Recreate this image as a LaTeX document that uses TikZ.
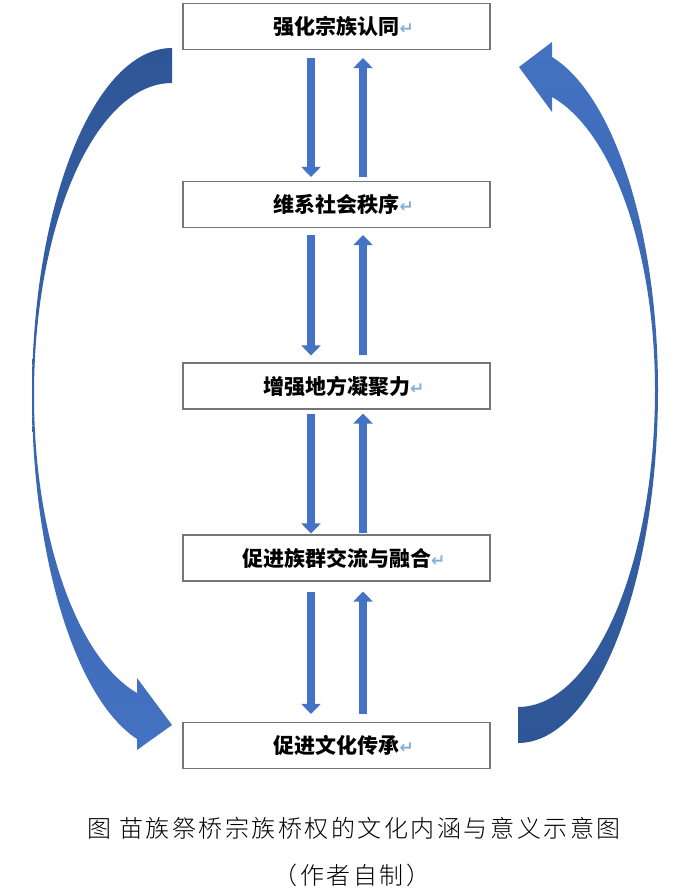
\documentclass[tikz,border=0pt]{standalone}
\usepackage{fontspec}
\setmainfont{Noto Sans CJK SC}
\newfontfamily\symfont{DejaVu Sans}
\newfontfamily\capfont{Noto Sans CJK SC Light}[LetterSpace=10.5]
\usetikzlibrary{arrows.meta}
\definecolor{arrowblue}{RGB}{68,114,196}
\definecolor{arrowdark}{RGB}{46,86,150}
\definecolor{arrowlight}{RGB}{68,114,194}
\definecolor{boxgray}{RGB}{118,118,118}
\definecolor{retblue}{RGB}{135,175,215}
\newcommand{\retmark}{\rlap{\symfont\fontsize{17}{17}\selectfont\color{retblue}↵}}
\begin{document}
\begin{tikzpicture}[x=1pt,y=-1pt,
  box/.style={draw=boxgray, line width=1.2pt, fill=white, minimum width=307pt,
    minimum height=46pt, inner sep=0pt, font=\fontsize{21}{24}\selectfont\bfseries},
  varrow/.style={draw=arrowblue, line width=8pt,
    -{Triangle[width=19pt,length=10pt]}},
  captxt/.style={inner sep=0pt, font=\capfont\fontsize{24}{28}\selectfont}]
\useasboundingbox (0,0) rectangle (692,892);

% boxes
\node[box] (b1) at (336.5,26.5) {强化宗族认同\retmark};
\node[box] (b2) at (336.5,204.5) {维系社会秩序\retmark};
\node[box] (b3) at (336.5,386) {增强地方凝聚力\retmark};
\node[box] (b4) at (336.5,558) {促进族群交流与融合\retmark};
\node[box] (b5) at (336.5,745.5) {促进文化传承\retmark};

% vertical arrows
\draw[varrow] ([xshift=-25.5pt,yshift=-8pt]b1.south) -- ([xshift=-25.5pt,yshift=4pt]b2.north);
\draw[varrow] ([xshift=26.5pt,yshift=4pt]b2.north) -- ([xshift=26.5pt,yshift=-8pt]b1.south);
\draw[varrow] ([xshift=-25.5pt,yshift=-7pt]b2.south) -- ([xshift=-25.5pt,yshift=7pt]b3.north);
\draw[varrow] ([xshift=26.5pt,yshift=7pt]b3.north) -- ([xshift=26.5pt,yshift=-7pt]b2.south);
\draw[varrow] ([xshift=-25.5pt,yshift=-4pt]b3.south) -- ([xshift=-25.5pt,yshift=1pt]b4.north);
\draw[varrow] ([xshift=26.5pt,yshift=1pt]b4.north) -- ([xshift=26.5pt,yshift=-4pt]b3.south);
\draw[varrow] ([xshift=-25.5pt,yshift=-10pt]b4.south) -- ([xshift=-25.5pt,yshift=8pt]b5.north);
\draw[varrow] ([xshift=26.5pt,yshift=8pt]b5.north) -- ([xshift=26.5pt,yshift=-10pt]b4.south);

% left curved arrow (top -> bottom)
\shade[top color=arrowdark, bottom color=arrowlight]
  (172,48) .. controls (94.7,48) and (32,203.3) .. (32,395)
  .. controls (32,556.8) and (75.2,698.5) .. (137,739)
  -- (137,750) -- (172,725) -- (137,678) -- (137,693)
  .. controls (76.2,657.4) and (34,535.4) .. (34,395)
  .. controls (34,222.7) and (95.8,83) .. (172,83) -- cycle;

% right curved arrow (bottom -> top)
\shade[top color=arrowlight, bottom color=arrowdark]
  (518,743) .. controls (595.3,743) and (658,585) .. (658,390)
  .. controls (658,232.8) and (614.2,95.2) .. (552,57)
  -- (552,42) -- (519,67) -- (552,112) -- (552,97)
  .. controls (612.6,131.2) and (655,251.9) .. (655,390)
  .. controls (655,565.1) and (593.7,707) .. (518,707) -- cycle;

% caption
\node[captxt] (cap1) at (354,828) {图 苗族祭桥宗族桥权的文化内涵与意义示意图};
\node[captxt] (cap2) at (352,875) {（作者自制）};
\end{tikzpicture}
\end{document}
